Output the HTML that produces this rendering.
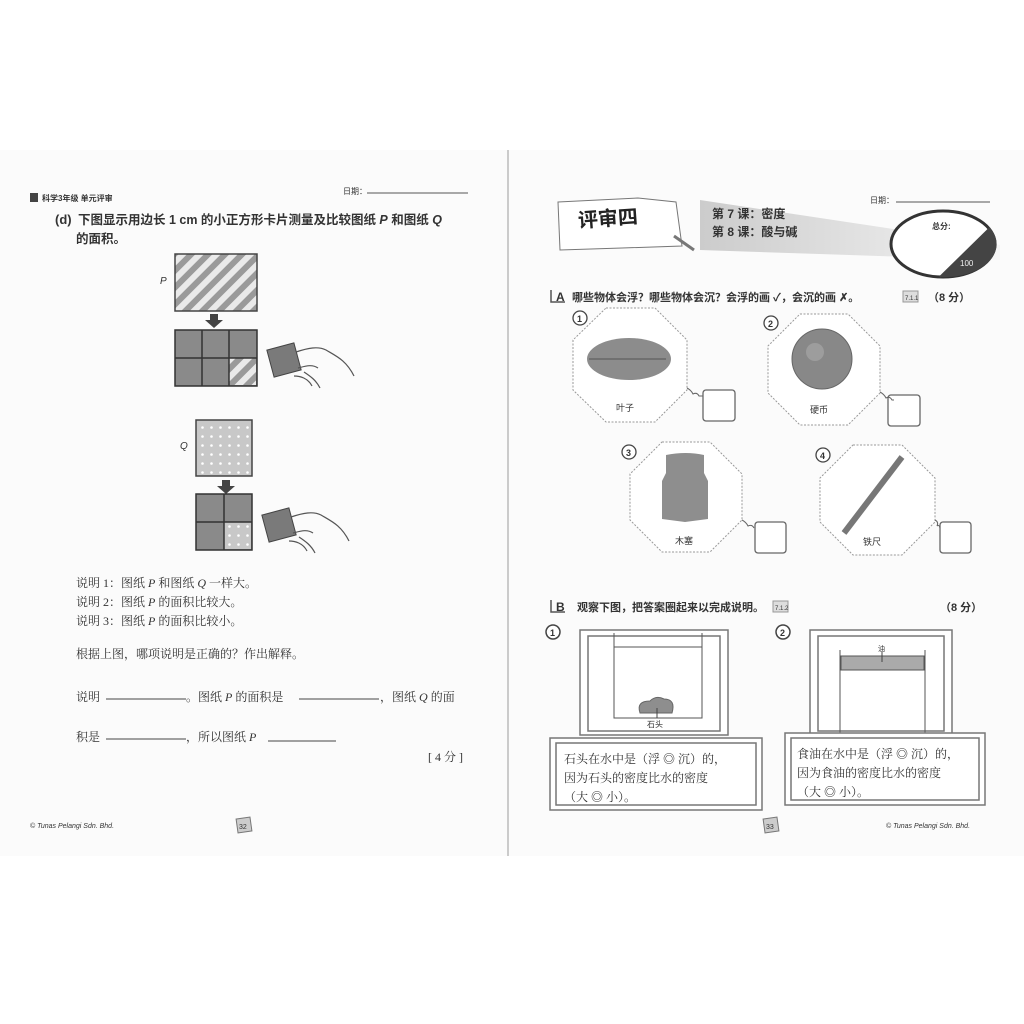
<!DOCTYPE html>
<html><head><meta charset="utf-8">
<style>
html,body{margin:0;padding:0;background:#fff;}
svg{display:block;}
text{font-family:"Liberation Sans","Noto Sans CJK SC",sans-serif;fill:#333;}
.c{font-family:"Liberation Serif","Noto Serif CJK SC",serif;}
</style></head><body>
<svg width="1024" height="1024" viewBox="0 0 1024 1024" xmlns="http://www.w3.org/2000/svg">
<defs>
<pattern id="hatch" width="12" height="12" patternUnits="userSpaceOnUse" patternTransform="rotate(45)">
<rect width="12" height="12" fill="#eaeaea"/><rect width="6" height="12" fill="#9a9a9a"/></pattern>
<pattern id="dots" width="9" height="9" patternUnits="userSpaceOnUse">
<rect width="9" height="9" fill="#c8c8c8"/><circle cx="4.5" cy="4.5" r="1.3" fill="#fff"/></pattern>
<linearGradient id="band" x1="0" x2="1"><stop offset="0" stop-color="#ccc"/><stop offset="1" stop-color="#f4f4f4"/></linearGradient>
</defs>
<rect x="0" y="150" width="1024" height="706" fill="#fbfbfb"/>
<line x1="508" y1="150" x2="508" y2="856" stroke="#bbb" stroke-width="1.5"/>

<!-- LEFT PAGE -->
<rect x="30" y="193" width="8" height="9" fill="#444"/>
<text x="42" y="201" font-size="8" font-weight="bold">科学3年级 单元评审</text>
<text x="343" y="194" font-size="8">日期：</text>
<line x1="367" y1="193" x2="468" y2="193" stroke="#555"/>
<text x="55" y="224" font-size="13" font-weight="bold">(d)</text>
<text x="78" y="224" font-size="12.5" font-weight="bold">下图显示用边长 1 cm 的小正方形卡片测量及比较图纸 <tspan font-style="italic">P</tspan> 和图纸 <tspan font-style="italic">Q</tspan></text>
<text x="76" y="243" font-size="12.5" font-weight="bold">的面积。</text>

<text x="160" y="284" font-size="10" font-style="italic">P</text>
<rect x="175" y="254" width="82" height="57" fill="url(#hatch)" stroke="#444" stroke-width="1.5"/>
<path d="M210 314h8v6h5l-9 8-9-8h5z" fill="#444"/>
<rect x="175" y="330" width="82" height="56" fill="#8a8a8a" stroke="#333" stroke-width="1.5"/>
<rect x="229" y="358" width="27" height="27" fill="url(#hatch)"/>
<path d="M202 330v56M229 330v56M175 358h82" stroke="#333" stroke-width="1.5"/>
<g transform="translate(268,340)"><rect x="2" y="6" width="28" height="28" transform="rotate(-15 16 20)" fill="#7a7a7a" stroke="#444"/>
<path d="M28 12c12-4 22-6 30-2 10 6 20 10 28 26M30 28c8-2 14-4 20 0M26 36c6 0 14 2 18 10M36 32c6 4 12 8 16 16" fill="none" stroke="#555" stroke-width="1.2"/></g>

<text x="180" y="449" font-size="10" font-style="italic">Q</text>
<rect x="196" y="420" width="56" height="56" fill="url(#dots)" stroke="#444" stroke-width="1.5"/>
<path d="M222 480h8v6h5l-9 8-9-8h5z" fill="#444"/>
<rect x="196" y="494" width="56" height="56" fill="#8a8a8a" stroke="#333" stroke-width="1.5"/>
<rect x="224" y="522" width="27" height="27" fill="url(#dots)"/>
<path d="M224 494v56M196 522h56" stroke="#333" stroke-width="1.5"/>
<g transform="translate(263,505)"><rect x="2" y="6" width="28" height="28" transform="rotate(-15 16 20)" fill="#7a7a7a" stroke="#444"/>
<path d="M28 12c12-4 22-6 30-2 10 6 20 10 28 26M30 28c8-2 14-4 20 0M26 36c6 0 14 2 18 10M36 32c6 4 12 8 16 16" fill="none" stroke="#555" stroke-width="1.2"/></g>

<g font-size="12">
<text x="76" y="587" class="c">说明 1：图纸 <tspan font-style="italic">P</tspan> 和图纸 <tspan font-style="italic">Q</tspan> 一样大。</text>
<text x="76" y="606" class="c">说明 2：图纸 <tspan font-style="italic">P</tspan> 的面积比较大。</text>
<text x="76" y="625" class="c">说明 3：图纸 <tspan font-style="italic">P</tspan> 的面积比较小。</text>
<text x="76" y="658" class="c">根据上图，哪项说明是正确的？作出解释。</text>
<text x="76" y="701" class="c">说明</text>
<text x="186" y="701" class="c">。图纸 <tspan font-style="italic">P</tspan> 的面积是</text>
<text x="380" y="701" class="c">，图纸 <tspan font-style="italic">Q</tspan> 的面</text>
<text x="76" y="741" class="c">积是</text>
<text x="186" y="741" class="c">，所以图纸 <tspan font-style="italic">P</tspan></text>
<text x="428" y="761" class="c">[ 4 分 ]</text>
</g>
<path d="M106 699h80M299 699h80M106 739h80M268 741h68" stroke="#444"/>
<text x="30" y="828" font-size="7" font-style="italic">© Tunas Pelangi Sdn. Bhd.</text>
<rect x="237" y="818" width="14" height="14" fill="#ccc" stroke="#777" transform="rotate(-8 244 825)"/>
<text x="239" y="829" font-size="7">32</text>

<!-- RIGHT PAGE -->
<path d="M700 200 L1000 245 L1000 260 L700 250 Z" fill="url(#band)"/>
<path d="M558 202 l80 -4 l38 4 l6 44 l-60 2 l-62 2 Z" fill="#fff" stroke="#777"/>
<path d="M674 236 l20 14" stroke="#777" stroke-width="3"/>
<text x="578" y="226" font-size="20" font-weight="bold" style="fill:#222" transform="rotate(-4 600 220)">评审四</text>
<text x="712" y="218" font-size="12" font-weight="bold">第 7 课：密度</text>
<text x="712" y="236" font-size="12" font-weight="bold">第 8 课：酸与碱</text>
<text x="870" y="203" font-size="8">日期：</text>
<line x1="896" y1="202" x2="990" y2="202" stroke="#555"/>
<ellipse cx="943" cy="244" rx="52" ry="33" fill="#fff" stroke="#333" stroke-width="3"/>
<path d="M990 228 A52 33 0 0 1 940 277 Z" fill="#444"/>
<path d="M990 228 L940 277" stroke="#444" stroke-width="2"/>
<text x="932" y="229" font-size="8" font-weight="bold">总分:</text>
<text x="960" y="266" font-size="8" style="fill:#eee">100</text>

<path d="M551 290v12h14" fill="none" stroke="#555" stroke-width="1.5"/>
<text x="556" y="301" font-size="12" font-weight="bold">A</text>
<text x="572" y="301" font-size="11" font-weight="bold">哪些物体会浮？哪些物体会沉？会浮的画 ✓，会沉的画 ✗。</text>
<rect x="903" y="291" width="15" height="11" fill="#ddd" stroke="#999"/><text x="905" y="300" font-size="6">7.1.1</text>
<text x="928" y="301" font-size="11" font-weight="bold">（8 分）</text>

<g fill="#fff" stroke="#999" stroke-dasharray="2 1.5">
<polygon points="606,308 655,308 687,340 687,390 655,422 606,422 573,390 573,340"/>
<polygon points="800,314 848,314 880,346 880,393 848,425 800,425 768,393 768,346"/>
<polygon points="662,442 710,442 742,474 742,520 710,552 662,552 630,520 630,474"/>
<polygon points="853,445 902,445 935,478 935,522 902,555 853,555 820,522 820,478"/>
</g>
<g fill="#fff" stroke="#666" stroke-width="1.3">
<rect x="703" y="390" width="32" height="31" rx="3"/><rect x="888" y="395" width="32" height="31" rx="3"/>
<rect x="755" y="522" width="31" height="31" rx="3"/><rect x="940" y="522" width="31" height="31" rx="3"/>
</g>
<g fill="none" stroke="#666"><path d="M687 388q4 2 6 6q4-2 6 2h4"/><path d="M880 392q4 2 6 6q4-2 6 2h2"/><path d="M742 520q4 2 6 6q4-2 6 2"/><path d="M935 520q4 2 2 6q2-2 3 2"/></g>
<g fill="#fff" stroke="#444" stroke-width="1.3">
<circle cx="580" cy="318" r="7"/><circle cx="771" cy="323" r="7"/><circle cx="629" cy="452" r="7"/><circle cx="823" cy="455" r="7"/></g>
<g font-size="9" font-weight="bold"><text x="577" y="322">1</text><text x="768" y="327">2</text><text x="626" y="456">3</text><text x="820" y="459">4</text></g>
<ellipse cx="629" cy="359" rx="42" ry="21" fill="#8c8c8c"/><path d="M589 359h77" stroke="#555"/>
<circle cx="822" cy="359" r="30" fill="#888" stroke="#666"/><circle cx="815" cy="352" r="9" fill="#9d9d9d"/>
<path d="M666 455q20-4 38 0v18l4 8v38l-23 3-23-3v-38l4-8z" fill="#8e8e8e"/>
<path d="M844 533 L902 457" stroke="#777" stroke-width="6"/>
<g font-size="9"><text x="616" y="411">叶子</text><text x="810" y="413">硬币</text><text x="675" y="544">木塞</text><text x="863" y="545">铁尺</text></g>

<path d="M551 600v12h14" fill="none" stroke="#555" stroke-width="1.5"/>
<text x="556" y="611" font-size="12" font-weight="bold">B</text>
<text x="577" y="611" font-size="11" font-weight="bold">观察下图，把答案圈起来以完成说明。</text>
<rect x="773" y="601" width="15" height="11" fill="#ddd" stroke="#999"/><text x="775" y="610" font-size="6">7.1.2</text>
<text x="940" y="611" font-size="11" font-weight="bold">（8 分）</text>

<g fill="#fff" stroke="#777" stroke-width="1.5">
<rect x="580" y="630" width="148" height="105"/><rect x="588" y="636" width="132" height="95" fill="none"/>
<rect x="810" y="630" width="142" height="105"/><rect x="818" y="636" width="126" height="95" fill="none"/>
<circle cx="553" cy="632" r="7" stroke="#444"/><circle cx="783" cy="632" r="7" stroke="#444"/>
</g>
<g font-size="9" font-weight="bold"><text x="550" y="636">1</text><text x="780" y="636">2</text></g>
<path d="M614 633v85h88v-85M614 647h88" fill="none" stroke="#555"/>
<path d="M640 713q-4-12 10-12q6-6 14-2q12 0 8 14z" fill="#8e8e8e" stroke="#666"/>
<path d="M657 708v10" stroke="#444"/>
<text x="647" y="727" font-size="8">石头</text>
<path d="M840 650v85h85v-85" fill="none" stroke="#555"/>
<rect x="841" y="656" width="83" height="14" fill="#aaa" stroke="#555"/>
<text x="878" y="651" font-size="7">油</text><path d="M882 652v10" stroke="#444"/>

<g fill="#fff" stroke="#777" stroke-width="1.5">
<rect x="550" y="738" width="212" height="72"/><rect x="556" y="743" width="200" height="62" fill="none"/>
<rect x="785" y="733" width="200" height="72"/><rect x="791" y="738" width="188" height="62" fill="none"/>
</g>
<g font-size="12">
<text x="564" y="763" class="c">石头在水中是（浮 ◎ 沉）的，</text>
<text x="564" y="782" class="c">因为石头的密度比水的密度</text>
<text x="564" y="801" class="c">（大 ◎ 小）。</text>
<text x="797" y="758" class="c">食油在水中是（浮 ◎ 沉）的，</text>
<text x="797" y="777" class="c">因为食油的密度比水的密度</text>
<text x="797" y="796" class="c">（大 ◎ 小）。</text>
</g>
<rect x="764" y="818" width="14" height="14" fill="#ccc" stroke="#777" transform="rotate(-8 771 825)"/>
<text x="766" y="829" font-size="7">33</text>
<text x="886" y="828" font-size="7" font-style="italic">© Tunas Pelangi Sdn. Bhd.</text>
</svg>
</body></html>
